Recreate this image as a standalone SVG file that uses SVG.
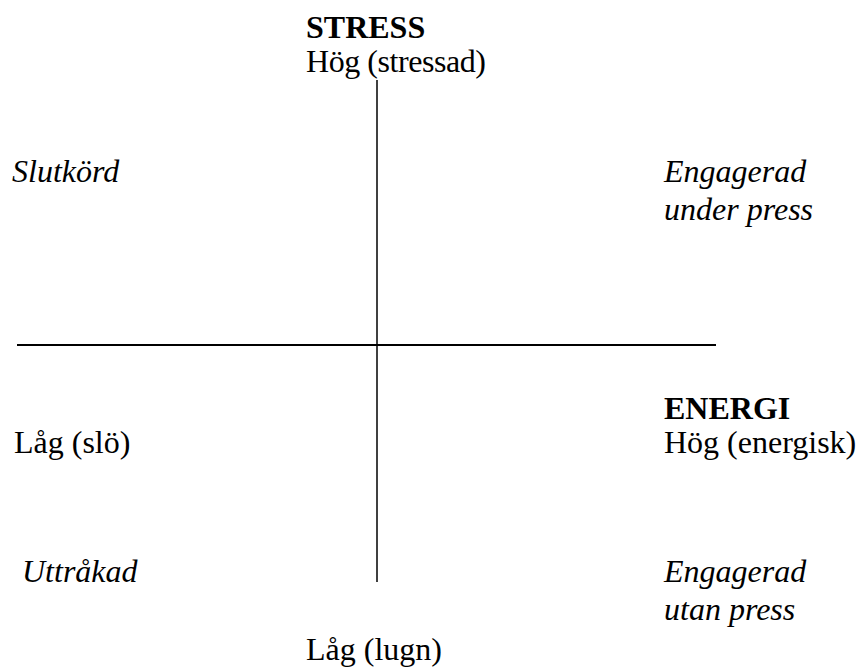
<svg xmlns="http://www.w3.org/2000/svg" width="859" height="669" viewBox="0 0 859 669">
<style>
text{font-family:"Liberation Serif","Times New Roman",serif;font-size:32px;fill:#000}
.b{font-weight:bold}
.i{font-style:italic}
.ax{stroke:#000;fill:none}
</style>
<rect width="859" height="669" fill="#fff"/>
<g id="connectors">
<line class="ax" x1="377" y1="80" x2="377" y2="582" stroke-width="1.5"/>
<line class="ax" x1="17" y1="345" x2="716" y2="345" stroke-width="2"/>
</g>
<g id="stress-axis">
<text class="b" x="306" y="38">STRESS</text>
<text x="306" y="72" textLength="180">Hög (stressad)</text>
<text x="306" y="660">Låg (lugn)</text>
</g>
<g id="energy-axis">
<text class="b" x="664" y="419">ENERGI</text>
<text x="664" y="453">Hög (energisk)</text>
<text x="14" y="453">Låg (slö)</text>
</g>
<g id="q-slutkord"><text class="i" x="12" y="182">Slutkörd</text></g>
<g id="q-engagerad-under"><text class="i" x="664" y="182">Engagerad</text><text class="i" x="664" y="220">under press</text></g>
<g id="q-uttrakad"><text class="i" x="22" y="582">Uttråkad</text></g>
<g id="q-engagerad-utan"><text class="i" x="664" y="582">Engagerad</text><text class="i" x="664" y="620">utan press</text></g>
</svg>
